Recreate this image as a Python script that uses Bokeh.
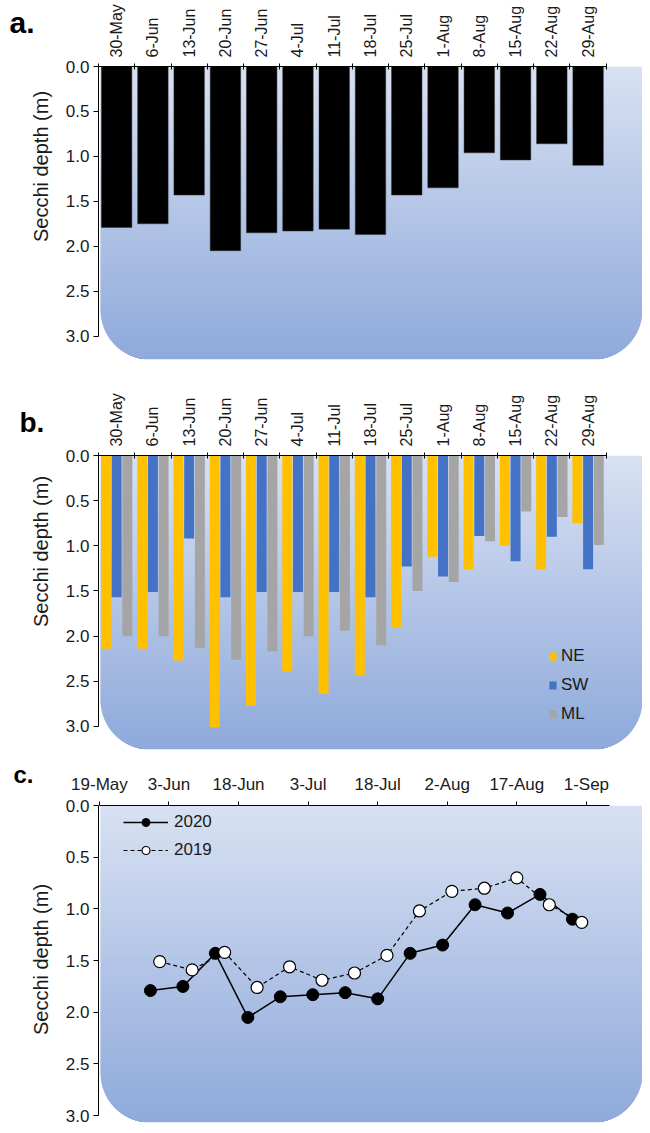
import numpy as np
import pandas as pd
from bokeh.plotting import figure
from bokeh.models import (Range1d, FixedTicker, Legend, LegendItem, PrintfTickFormatter)
from bokeh.layouts import column, row
from bokeh.embed import file_html
from bokeh.resources import INLINE
from bokeh.core.properties import value

# ---------------- data ----------------
week_labels = ["30-May", "6-Jun", "13-Jun", "20-Jun", "27-Jun", "4-Jul", "11-Jul",
               "18-Jul", "25-Jul", "1-Aug", "8-Aug", "15-Aug", "22-Aug", "29-Aug"]
secchi_2020 = [1.79, 1.75, 1.43, 2.05, 1.85, 1.83, 1.81, 1.87, 1.43, 1.35, 0.96, 1.04, 0.86, 1.10]
ne_depth = [2.14, 2.14, 2.27, 3.01, 2.77, 2.39, 2.64, 2.43, 1.90, 1.12, 1.26, 1.00, 1.26, 0.75]
sw_depth = [1.57, 1.51, 0.92, 1.57, 1.51, 1.51, 1.51, 1.57, 1.23, 1.34, 0.89, 1.17, 0.90, 1.26]
ml_depth = [2.00, 2.00, 2.13, 2.26, 2.17, 2.00, 1.94, 2.10, 1.50, 1.40, 0.95, 0.62, 0.68, 0.99]
dates_2020 = ["2020-05-30", "2020-06-06", "2020-06-13", "2020-06-20", "2020-06-27",
              "2020-07-04", "2020-07-11", "2020-07-18", "2020-07-25", "2020-08-01",
              "2020-08-08", "2020-08-15", "2020-08-22", "2020-08-29"]
dates_2019 = ["2019-06-01", "2019-06-08", "2019-06-15", "2019-06-22", "2019-06-29",
              "2019-07-06", "2019-07-13", "2019-07-20", "2019-07-27", "2019-08-03",
              "2019-08-10", "2019-08-17", "2019-08-24", "2019-08-31"]
secchi_2019 = [1.51, 1.59, 1.42, 1.76, 1.56, 1.69, 1.62, 1.45, 1.02, 0.83, 0.80, 0.70, 0.96, 1.13]
date_tick_labels = ["19-May", "3-Jun", "18-Jun", "3-Jul", "18-Jul", "2-Aug", "17-Aug", "1-Sep"]
date_tick_days = [0, 15, 30, 45, 60, 75, 90, 105]
y_ticks = [0.0, 0.5, 1.0, 1.5, 2.0, 2.5, 3.0]
panel_letters = ["a.", "b.", "c."]
y_title = "Secchi depth (m)"

# ---------------- style ----------------
FONT = "Liberation Sans"
TXT = "#1a1a1a"
BG_TOP = (216, 225, 242)
BG_BOT = (142, 169, 219)
YELLOW, BLUE, GREY = "#ffc000", "#4472c4", "#a5a5a5"
STRIP_W = 54
MAIN_W = 588
LEFT = 44
FW = MAIN_W - LEFT

origin = pd.Timestamp("2020-05-19")
x20 = [(pd.Timestamp(d) - origin).days for d in dates_2020]
x19 = [(pd.Timestamp(d).replace(year=2020) - origin).days for d in dates_2019]


def add_bg(p, xr, y_end, fw, fh, R=50.0, left_px=2.0):
    ppx = fw / (xr[1] - xr[0])
    ppy = fh / y_end
    L, Rt, T, B, C = [], [], [], [], []
    for k in range(int(fh)):
        mid = k + 0.5
        d = fh - mid
        inset = R - np.sqrt(max(R * R - (R - d) ** 2, 0.0)) if d < R else 0.0
        L.append(xr[0] + (left_px + inset) / ppx)
        Rt.append(xr[1] - inset / ppx)
        T.append(k / ppy)
        B.append(min(k + 1.6, fh) / ppy)
        t = mid / fh
        c = tuple(int(round(a + (b - a) * t)) for a, b in zip(BG_TOP, BG_BOT))
        C.append("#%02x%02x%02x" % c)
    p.quad(left=L, right=Rt, top=T, bottom=B, fill_color=C, line_color=None)


def base_fig(height, top_border, fh, xr, y_end):
    p = figure(width=MAIN_W, height=height, x_range=Range1d(*xr), y_range=Range1d(y_end, 0),
               x_axis_location="above", output_backend="svg", toolbar_location=None,
               min_border_left=LEFT, min_border_right=0, min_border_top=top_border,
               min_border_bottom=height - top_border - fh)
    p.frame_align = False
    p.outline_line_color = None
    p.xgrid.visible = False
    p.ygrid.visible = False
    p.background_fill_color = "white"
    p.border_fill_color = "white"
    add_bg(p, xr, y_end, FW, fh)
    ya = p.yaxis[0]
    ya.ticker = FixedTicker(ticks=y_ticks)
    ya.formatter = PrintfTickFormatter(format="%.1f")
    ya.bounds = (0, 3)
    ya.major_tick_out = 5
    ya.major_tick_in = 0
    ya.minor_tick_out = 0
    ya.minor_tick_in = 0
    ya.major_label_standoff = 4
    ya.major_label_text_font = FONT
    ya.major_label_text_font_size = "17px"
    ya.major_label_text_color = TXT
    ya.axis_line_color = "black"
    ya.major_tick_line_color = "black"
    xa = p.xaxis[0]
    xa.axis_line_color = "black"
    xa.major_tick_line_color = "black"
    xa.minor_tick_line_color = "black"
    xa.major_label_text_font = FONT
    xa.major_label_text_color = TXT
    return p


def strip_fig(height, letter, letter_xy, letter_size, title_xy):
    s = figure(width=STRIP_W, height=height, x_range=Range1d(0, STRIP_W),
               y_range=Range1d(height, 0), x_axis_type=None, y_axis_type=None,
               output_backend="svg", toolbar_location=None, min_border=0)
    s.frame_align = False
    s.outline_line_color = None
    s.background_fill_color = "white"
    s.border_fill_color = "white"
    s.text(x=[letter_xy[0]], y=[letter_xy[1]], text=[letter], text_align="left",
           text_baseline="alphabetic", text_font=value(FONT), text_font_size=letter_size,
           text_font_style="bold", text_color="black")
    s.text(x=[title_xy[0]], y=[title_xy[1]], text=[y_title], angle=np.pi / 2,
           text_align="center", text_baseline="middle", text_font=value(FONT),
           text_font_size="20px", text_color=TXT)
    return s


def category_axis(p):
    xa = p.xaxis[0]
    n = len(week_labels)
    xa.ticker = FixedTicker(ticks=list(range(n)), minor_ticks=[i - 0.5 for i in range(n + 1)])
    xa.major_label_overrides = {i: lab for i, lab in enumerate(week_labels)}
    xa.major_label_orientation = "vertical"
    xa.major_label_text_font_size = "16px"
    xa.major_label_standoff = 6
    xa.major_tick_out = 0
    xa.major_tick_in = 0
    xa.minor_tick_out = 3
    xa.minor_tick_in = 3
    xa.bounds = (-0.5, n - 0.5)


n = len(week_labels)
xs = np.arange(n)
CAT_XR = (-0.5, 14.5)

# ---------------- panel a ----------------
H_A, FH_A = 379, 293
pa = base_fig(H_A, 66, FH_A, CAT_XR, 3.26)
category_axis(pa)
pa.vbar(x=xs, width=0.84, bottom=0, top=secchi_2020, fill_color="black", line_color="#333333",
        line_width=0.5)
sa = strip_fig(H_A, panel_letters[0], (9, 22), "30px", (40, 166))

# ---------------- panel b ----------------
H_B, FH_B = 373, 294
pb = base_fig(H_B, 76, FH_B, CAT_XR, 3.255)
category_axis(pb)
off, bw = 0.295, 0.275
r_ne = pb.vbar(x=xs - off, width=bw, bottom=0, top=ne_depth, fill_color=YELLOW, line_color=None)
r_sw = pb.vbar(x=xs, width=bw, bottom=0, top=sw_depth, fill_color=BLUE, line_color=None)
r_ml = pb.vbar(x=xs + off, width=bw, bottom=0, top=ml_depth, fill_color=GREY, line_color=None)
leg_b = Legend(items=[LegendItem(label="NE", renderers=[r_ne]),
                      LegendItem(label="SW", renderers=[r_sw]),
                      LegendItem(label="ML", renderers=[r_ml])],
               location=(450, 25), padding=0, margin=0, spacing=9, glyph_width=9,
               glyph_height=10, label_height=20, label_standoff=4,
               label_text_font=FONT, label_text_font_size="17px", label_text_color=TXT,
               background_fill_alpha=0, border_line_alpha=0)
pb.add_layout(leg_b)
sb = strip_fig(H_B, panel_letters[1], (19, 43), "28px", (40, 172))

# ---------------- panel c ----------------
H_C, FH_C = 373, 317
DAY_XR = (-0.2, 117.1)
pc = base_fig(H_C, 53, FH_C, DAY_XR, 3.066)
xc = pc.xaxis[0]
xc.ticker = FixedTicker(ticks=date_tick_days)
xc.major_label_overrides = {d: lab for d, lab in zip(date_tick_days, date_tick_labels)}
xc.major_label_text_font_size = "17px"
xc.major_label_standoff = 8
xc.major_tick_out = 4
xc.major_tick_in = 0
xc.minor_tick_out = 0
xc.minor_tick_in = 0
xc.bounds = (0, 110)

l20 = pc.line(x20, secchi_2020, line_color="black", line_width=1.5)
s20 = pc.scatter(x20, secchi_2020, size=12, fill_color="black", line_color="black")
l19 = pc.line(x19, secchi_2019, line_color="black", line_width=1.2, line_dash="4 3")
s19 = pc.scatter(x19, secchi_2019, size=12, fill_color="white", line_color="black",
                 line_width=1.2)
leg_c = Legend(items=[LegendItem(label="2020", renderers=[l20, s20]),
                      LegendItem(label="2019", renderers=[l19, s19])],
               location=(25, 262), padding=0, margin=0, spacing=8, glyph_width=45,
               glyph_height=20, label_height=20, label_standoff=6,
               label_text_font=FONT, label_text_font_size="17px", label_text_color=TXT,
               background_fill_alpha=0, border_line_alpha=0)
pc.add_layout(leg_c)
sc = strip_fig(H_C, panel_letters[2], (13, 22), "24px", (40, 207))

layout = column(row(sa, pa), row(sb, pb), row(sc, pc))
open("out.html", "w").write(file_html(layout, INLINE))
